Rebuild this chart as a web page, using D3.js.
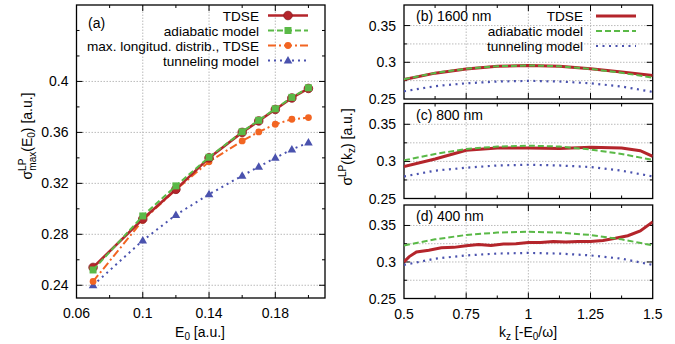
<!DOCTYPE html>
<html>
<head>
<meta charset="utf-8">
<script src="https://cdn.jsdelivr.net/npm/d3@7"></script>
<style>
  body { margin: 0; background: #fff; }
  svg { font-family: "Liberation Sans", Arial, sans-serif; font-size: 14px; }
  .grid line { stroke: #bbb; stroke-width: 1; stroke-dasharray: 1.5,1.5; }
</style>
</head>
<body>
<div id="app"></div>
<script>
// ---- panel (a) data ----
const fieldE0 = [0.07, 0.1, 0.12, 0.14, 0.16, 0.17, 0.18, 0.19, 0.2];
const tdseA = [0.254, 0.292, 0.3153, 0.340, 0.360, 0.369, 0.378, 0.387, 0.3945];
const adiabaticA = [0.252, 0.2944, 0.318, 0.3405, 0.3605, 0.3695, 0.3785, 0.3875, 0.395];
const maxLongA = [0.243, 0.291, 0.315, 0.337, 0.3533, 0.3604, 0.3664, 0.3703, 0.3716];
const tunnelingA = [0.240, 0.2751, 0.2952, 0.3114, 0.326, 0.333, 0.340, 0.3466, 0.352];
const xTicksA = [0.06, 0.1, 0.14, 0.18];
const yTicksA = [0.24, 0.28, 0.32, 0.36, 0.4];

// ---- panels (b)-(d) data ----
const kz = [0.5, 0.625, 0.75, 0.875, 1, 1.125, 1.25, 1.375, 1.5];
const tdseB = [0.2764, 0.2852, 0.291, 0.2945, 0.2955, 0.2945, 0.2912, 0.2868, 0.2819];
const adiabaticB = [0.2770, 0.2855, 0.2912, 0.2946, 0.2957, 0.2946, 0.2910, 0.2858, 0.2790];
const tunnelingB = [0.2605, 0.2675, 0.2714, 0.2738, 0.2747, 0.2738, 0.2714, 0.2670, 0.2596];

const kzTdseC = [0.5, 0.625, 0.75, 0.875, 1, 1.125, 1.25, 1.375, 1.45, 1.5];
const tdseC = [0.2932, 0.3032, 0.3149, 0.318, 0.318, 0.3174, 0.319, 0.318, 0.3144, 0.3068];
const adiabaticC = [0.3014, 0.3100, 0.3167, 0.3200, 0.3212, 0.3200, 0.316, 0.310, 0.302];
const tunnelingC = [0.2797, 0.2875, 0.2915, 0.2945, 0.2955, 0.2945, 0.2924, 0.2875, 0.2797];

const kzTdseD = [0.5, 0.52, 0.55, 0.6, 0.65, 0.7, 0.75, 0.8, 0.85, 0.9, 0.95, 1, 1.05, 1.1, 1.15, 1.2, 1.25, 1.3, 1.35, 1.4, 1.45, 1.5];
const tdseD = [0.300, 0.307, 0.3138, 0.316, 0.3195, 0.320, 0.3223, 0.324, 0.3225, 0.3245, 0.325, 0.3267, 0.3265, 0.328, 0.3275, 0.328, 0.328, 0.3295, 0.3325, 0.336, 0.3424, 0.3548];
const adiabaticD = [0.3227, 0.3310, 0.337, 0.3402, 0.3414, 0.3402, 0.337, 0.331, 0.3227];
const tunnelingD = [0.296, 0.3045, 0.309, 0.3115, 0.3124, 0.3115, 0.309, 0.3045, 0.296];

const xTicksR = [0.5, 0.75, 1, 1.25, 1.5];
const yTicksR = [0.25, 0.3, 0.35];

const colors = { tdse: '#b4252b', adiabatic: '#5ab947', maxLong: '#f26522', tunneling: '#4a52ae' };

const svg = d3.select('#app')
  .append('svg')
  .attr('width', 675)
  .attr('height', 344);

// draws a frame with inward ticks on all sides plus dotted grid
function drawFrame(x, y, opts) {
  const [x0, x1] = x.range();
  const [y0, y1] = y.range(); // y0 bottom, y1 top
  const g = svg.append('g');

  const grid = g.append('g').attr('class', 'grid');
  opts.xGrid.forEach(v => grid.append('line')
    .attr('x1', x(v)).attr('x2', x(v)).attr('y1', y0).attr('y2', y1));
  opts.yGrid.forEach(v => grid.append('line')
    .attr('x1', x0).attr('x2', x1).attr('y1', y(v)).attr('y2', y(v)));

  const ticks = g.append('g');
  opts.xMajor.forEach(v => {
    ticks.append('line').attr('x1', x(v)).attr('x2', x(v)).attr('y1', y0).attr('y2', y0 - 6);
    ticks.append('line').attr('x1', x(v)).attr('x2', x(v)).attr('y1', y1).attr('y2', y1 + 6);
  });
  opts.xMinor.forEach(v => {
    ticks.append('line').attr('x1', x(v)).attr('x2', x(v)).attr('y1', y0).attr('y2', y0 - 3);
    ticks.append('line').attr('x1', x(v)).attr('x2', x(v)).attr('y1', y1).attr('y2', y1 + 3);
  });
  opts.yMajor.forEach(v => {
    ticks.append('line').attr('x1', x0).attr('x2', x0 + 6).attr('y1', y(v)).attr('y2', y(v));
    ticks.append('line').attr('x1', x1).attr('x2', x1 - 6).attr('y1', y(v)).attr('y2', y(v));
  });
  opts.yMinor.forEach(v => {
    ticks.append('line').attr('x1', x0).attr('x2', x0 + 3).attr('y1', y(v)).attr('y2', y(v));
    ticks.append('line').attr('x1', x1).attr('x2', x1 - 3).attr('y1', y(v)).attr('y2', y(v));
  });
  ticks.selectAll('line').attr('stroke', '#000').attr('stroke-width', 1);

  if (opts.xLabels) {
    opts.xLabels.forEach(v => g.append('text')
      .attr('x', x(v)).attr('y', y0 + 20)
      .attr('text-anchor', 'middle').text(String(v)));
  }
  opts.yLabels.forEach(v => g.append('text')
    .attr('x', x0 - 8).attr('y', y(v) + 5)
    .attr('text-anchor', 'end').text(String(v)));

  g.append('rect')
    .attr('x', x0).attr('y', y1)
    .attr('width', x1 - x0).attr('height', y0 - y1)
    .attr('fill', 'none').attr('stroke', '#000').attr('stroke-width', 1.3);
  return g;
}

const styles = {
  tdse: { color: colors.tdse, width: 2.6, dash: null },
  adiabatic: { color: colors.adiabatic, width: 2, dash: '6,3' },
  maxLong: { color: colors.maxLong, width: 2, dash: '8,3,2,3' },
  tunneling: { color: colors.tunneling, width: 2, dash: '2,4' }
};

function drawLine(xs, ys, x, y, st, clipId) {
  const line = d3.line().x((d, i) => x(xs[i])).y(d => y(d));
  const p = svg.append('path')
    .datum(ys)
    .attr('d', line)
    .attr('fill', 'none')
    .attr('stroke', st.color)
    .attr('stroke-width', st.width);
  if (st.dash) p.attr('stroke-dasharray', st.dash);
  if (clipId) p.attr('clip-path', `url(#${clipId})`);
  return p;
}

function drawMarker(g, kind, cx, cy, color) {
  if (kind === 'circle') {
    g.append('circle').attr('cx', cx).attr('cy', cy).attr('r', 4.3)
      .attr('fill', color).attr('stroke', '#8a1a1f').attr('stroke-width', 0.8);
  } else if (kind === 'square') {
    g.append('rect').attr('x', cx - 3.5).attr('y', cy - 3.5).attr('width', 7).attr('height', 7)
      .attr('fill', color);
  } else if (kind === 'dot') {
    g.append('circle').attr('cx', cx).attr('cy', cy).attr('r', 3.4).attr('fill', color);
  } else if (kind === 'triangle') {
    g.append('path')
      .attr('d', `M${cx},${cy - 4.5}L${cx + 4.3},${cy + 3}L${cx - 4.3},${cy + 3}Z`)
      .attr('fill', color);
  }
}

// ---------------- panel (a) ----------------
const xA = d3.scaleLinear().domain([0.06, 0.21]).range([76.5, 325]);
const yA = d3.scaleLinear().domain([0.23, 0.46]).range([298, 5]);

drawFrame(xA, yA, {
  xGrid: [0.1, 0.14, 0.18],
  yGrid: yTicksA,
  xMajor: [0.1, 0.14, 0.18],
  xMinor: [0.08, 0.12, 0.16, 0.2],
  yMajor: yTicksA,
  yMinor: [0.26, 0.3, 0.34, 0.38, 0.42, 0.44],
  xLabels: xTicksA,
  yLabels: yTicksA
});

const seriesA = [
  { key: 'tunneling', ys: tunnelingA, marker: 'triangle', label: 'tunneling model' },
  { key: 'maxLong', ys: maxLongA, marker: 'dot', label: 'max. longitud. distrib., TDSE' },
  { key: 'tdse', ys: tdseA, marker: 'circle', label: 'TDSE' },
  { key: 'adiabatic', ys: adiabaticA, marker: 'square', label: 'adiabatic model' }
];

seriesA.forEach(s => {
  const st = styles[s.key];
  drawLine(fieldE0, s.ys, xA, yA, st);
  const mg = svg.append('g');
  s.ys.forEach((v, i) => drawMarker(mg, s.marker, xA(fieldE0[i]), yA(v), st.color));
});

// legend (a)
const legendA = ['tdse', 'adiabatic', 'maxLong', 'tunneling'];
const legendAY = [15.5, 30.5, 45.5, 60.5];
legendA.forEach((k, i) => {
  const s = seriesA.find(d => d.key === k);
  const st = styles[k];
  const yy = legendAY[i];
  svg.append('text').attr('x', 259).attr('y', yy + 5)
    .attr('font-size', 13.6)
    .attr('text-anchor', 'end').text(s.label);
  const p = svg.append('line')
    .attr('x1', 268).attr('x2', 308).attr('y1', yy).attr('y2', yy)
    .attr('stroke', st.color).attr('stroke-width', st.width);
  if (st.dash) p.attr('stroke-dasharray', st.dash);
  drawMarker(svg, s.marker, 288, yy, st.color);
});

svg.append('text').attr('x', 88).attr('y', 28).text('(a)');

// x label (a)
const xlabA = svg.append('text').attr('x', 200).attr('y', 337).attr('text-anchor', 'middle');
xlabA.append('tspan').text('E');
xlabA.append('tspan').attr('dy', 3).attr('font-size', 10).text('0');
xlabA.append('tspan').attr('dy', -3).text(' [a.u.]');

// y label (a)
const ylabA = svg.append('text')
  .attr('transform', 'translate(32,136) rotate(-90)')
  .attr('text-anchor', 'middle');
ylabA.append('tspan').text('σ');
ylabA.append('tspan').attr('dy', -6).attr('font-size', 10).text('LP');
ylabA.append('tspan').attr('dx', -12).attr('dy', 10).attr('font-size', 10).text('max');
ylabA.append('tspan').attr('dy', -4).text('(E');
ylabA.append('tspan').attr('dy', 3).attr('font-size', 10).text('0');
ylabA.append('tspan').attr('dy', -3).text(') [a.u.]');

// ---------------- panels (b)-(d) ----------------
const xR = d3.scaleLinear().domain([0.5, 1.5]).range([404, 652.7]);
const panels = [
  { name: '(b) 1600 nm', top: 5, bottom: 99, tdseX: kz, tdse: tdseB, adiabatic: adiabaticB, tunneling: tunnelingB },
  { name: '(c) 800 nm', top: 103.5, bottom: 198.5, tdseX: kzTdseC, tdse: tdseC, adiabatic: adiabaticC, tunneling: tunnelingC },
  { name: '(d) 400 nm', top: 205, bottom: 298.5, tdseX: kzTdseD, tdse: tdseD, adiabatic: adiabaticD, tunneling: tunnelingD }
];

const defs = svg.append('defs');

panels.forEach((p, idx) => {
  const y = d3.scaleLinear().domain([0.25, 0.378]).range([p.bottom, p.top]);
  drawFrame(xR, y, {
    xGrid: [0.75, 1, 1.25],
    yGrid: [0.275, 0.3, 0.325, 0.35],
    xMajor: [0.75, 1, 1.25],
    xMinor: [0.625, 0.875, 1.125, 1.375],
    yMajor: [0.3, 0.35],
    yMinor: [0.275, 0.325],
    xLabels: idx === 2 ? xTicksR : null,
    yLabels: yTicksR
  });
  const clipId = 'clip' + idx;
  defs.append('clipPath').attr('id', clipId)
    .append('rect').attr('x', 404).attr('y', p.top)
    .attr('width', 652.7 - 404).attr('height', p.bottom - p.top);

  drawLine(kz, p.tunneling, xR, y, { color: colors.tunneling, width: 2.2, dash: '2,4.5' }, clipId);
  drawLine(p.tdseX, p.tdse, xR, y, { color: colors.tdse, width: 3 }, clipId);
  drawLine(kz, p.adiabatic, xR, y, { color: colors.adiabatic, width: 2, dash: '6,3' }, clipId);

  svg.append('text').attr('x', 416).attr('y', p.top + 16).text(p.name);
});

// legend (b)
const legendR = [
  { label: 'TDSE', st: { color: colors.tdse, width: 3 } },
  { label: 'adiabatic model', st: { color: colors.adiabatic, width: 2, dash: '6,3' } },
  { label: 'tunneling model', st: { color: colors.tunneling, width: 2.2, dash: '2,4.5' } }
];
const legendRY = [16, 31, 46];
legendR.forEach((d, i) => {
  const yy = legendRY[i];
  svg.append('text').attr('x', 583).attr('y', yy + 5)
    .attr('font-size', 13.6)
    .attr('text-anchor', 'end').text(d.label);
  const l = svg.append('line')
    .attr('x1', 596).attr('x2', 636).attr('y1', yy).attr('y2', yy)
    .attr('stroke', d.st.color).attr('stroke-width', d.st.width);
  if (d.st.dash) l.attr('stroke-dasharray', d.st.dash);
});

// x label (right)
const xlabR = svg.append('text').attr('x', 528).attr('y', 337).attr('text-anchor', 'middle');
xlabR.append('tspan').text('k');
xlabR.append('tspan').attr('dy', 3).attr('font-size', 10).text('z');
xlabR.append('tspan').attr('dy', -3).text(' [-E');
xlabR.append('tspan').attr('dy', 3).attr('font-size', 10).text('0');
xlabR.append('tspan').attr('dy', -3).text('/ω]');

// y label (right)
const ylabR = svg.append('text')
  .attr('transform', 'translate(352,147) rotate(-90)')
  .attr('text-anchor', 'middle');
ylabR.append('tspan').text('σ');
ylabR.append('tspan').attr('dy', -6).attr('font-size', 10).text('LP');
ylabR.append('tspan').attr('dy', 6).text('(k');
ylabR.append('tspan').attr('dy', 3).attr('font-size', 10).text('z');
ylabR.append('tspan').attr('dy', -3).text(') [a.u.]');
</script>
</body>
</html>
